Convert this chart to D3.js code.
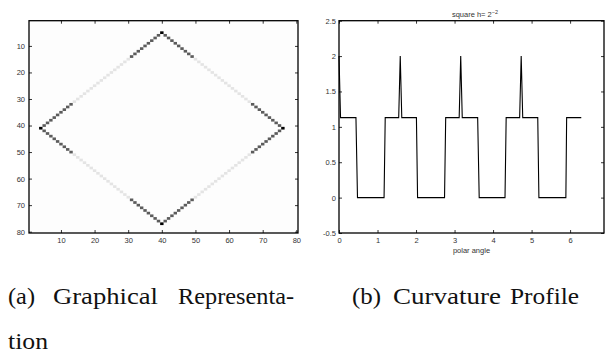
<!DOCTYPE html>
<html>
<head>
<meta charset="utf-8">
<script src="https://cdn.jsdelivr.net/npm/d3@7.9.0/dist/d3.min.js"></script>
<style>
  body { margin: 0; background: #fff; }
  svg { display: block; }
  .tick text { font-family: "Liberation Sans", Arial, sans-serif; font-size: 7.5px; fill: #333; }
  .tick line { stroke: #000; stroke-width: 0.8; }
  .caption { font-family: "Liberation Serif", "DejaVu Serif", serif; font-size: 24px; fill: #111; }
</style>
</head>
<body>
<svg id="fig" width="605" height="360"></svg>
<script>
// ---- left panel: 80x80 image with the diamond outline ----
const imgTicks = [10, 20, 30, 40, 50, 60, 70, 80];
// diamond corners [col, row], going round; corners are black
const corners = [[4, 41], [40, 5], [76, 41], [40, 77]];
// grey level of the 35 pixels between one corner and the next (1 = light, 2 = dark)
const edgeLevels = [
  [2,2,2,2,2,2,2,2,2, 1,1,1,1,1,1,1,1,1,1,1,1,1,1,1,1,1, 2,2,2,2,2,2,2,2,2],
  [2,2,2,2,2,2,2,2,2, 1,1,1,1,1,1,1,1,1,1,1,1,1,1,1,1,1, 2,2,2,2,2,2,2,2,2],
  [2,2,2,2,2,2,2,2,2, 1,1,1,1,1,1,1,1,1,1,1,1,1,1,1,1,1, 2,2,2,2,2,2,2,2,2],
  [2,2,2,2,2,2,2,2,2, 1,1,1,1,1,1,1,1,1,1,1,1,1,1,1,1,1, 2,2,2,2,2,2,2,2,2]
];
const levelColors = ['#ffffff', '#e4e4e4', '#5c5c5c', '#000000'];

// ---- right panel: curvature against polar angle ----
const angle = [0, 0.04, 0.44, 0.48, 1.17, 1.2, 1.55, 1.59, 1.63, 2.01, 2.04, 2.74, 2.77,
  3.12, 3.16, 3.2, 3.6, 3.64, 4.31, 4.34, 4.69, 4.73, 4.77, 5.16, 5.19, 5.89, 5.91, 6.29];
const curvature = [2, 1.13, 1.13, 0, 0, 1.13, 1.13, 2, 1.13, 1.13, 0, 0, 1.13,
  1.13, 2, 1.13, 1.13, 0, 0, 1.13, 1.13, 2, 1.13, 1.13, 0, 0, 1.13, 1.13];
const angleTicks = [0, 1, 2, 3, 4, 5, 6];
const curvTicks = [-0.5, 0, 0.5, 1, 1.5, 2, 2.5];
const curvTickLabels = ['-0.5', '0', '0.5', '1', '1.5', '2', '2.5'];

const svg = d3.select('#fig');

function frame(g, x, y) {
  const [x0, x1] = x.range();
  const [y1, y0] = y.range();
  g.append('rect')
    .attr('x', x0).attr('y', y0)
    .attr('width', x1 - x0).attr('height', y1 - y0)
    .attr('fill', 'none').attr('stroke', '#000').attr('stroke-width', 1.3);
}

function axes(g, x, y, xTicks, yTicks, yFormat, yPad) {
  const [x0, x1] = x.range();
  const [y1, y0] = y.range();
  g.append('g').attr('transform', `translate(0,${y1})`)
    .call(d3.axisBottom(x).tickValues(xTicks).tickSizeInner(-3).tickSizeOuter(0)
      .tickPadding(4.5).tickFormat(d3.format('d')))
    .call((a) => a.select('.domain').remove());
  g.append('g').attr('transform', `translate(0,${y0})`)
    .call(d3.axisTop(x).tickValues(xTicks).tickSizeInner(-3).tickSizeOuter(0).tickFormat(''))
    .call((a) => a.select('.domain').remove());
  g.append('g').attr('transform', `translate(${x0},0)`)
    .call(d3.axisLeft(y).tickValues(yTicks).tickSizeInner(-3).tickSizeOuter(0)
      .tickPadding(yPad).tickFormat(yFormat))
    .call((a) => a.select('.domain').remove());
  g.append('g').attr('transform', `translate(${x1},0)`)
    .call(d3.axisRight(y).tickValues(yTicks).tickSizeInner(-3).tickSizeOuter(0).tickFormat(''))
    .call((a) => a.select('.domain').remove());
}

// left panel
const left = svg.append('g');
const xImg = d3.scaleLinear().domain([0.5, 80.5]).range([29, 298]);
const yImg = d3.scaleLinear().domain([80.5, 0.5]).range([233, 20.7]);

const cells = [];
corners.forEach((c, i) => {
  const next = corners[(i + 1) % corners.length];
  const dc = Math.sign(next[0] - c[0]);
  const dr = Math.sign(next[1] - c[1]);
  cells.push({ col: c[0], row: c[1], level: 3 });
  edgeLevels[i].forEach((lv, k) => {
    cells.push({ col: c[0] + dc * (k + 1), row: c[1] + dr * (k + 1), level: lv });
  });
});

left.append('rect')
  .attr('x', xImg(0.5)).attr('y', yImg(0.5))
  .attr('width', xImg(80.5) - xImg(0.5)).attr('height', yImg(80.5) - yImg(0.5))
  .attr('fill', '#fdfdfd');

const cw = xImg(1) - xImg(0);
const ch = yImg(1) - yImg(0);
left.append('g').selectAll('rect')
  .data(cells)
  .join('rect')
  .attr('x', (d) => xImg(d.col - 0.5))
  .attr('y', (d) => yImg(d.row - 0.5))
  .attr('width', cw + 0.05)
  .attr('height', ch + 0.05)
  .attr('fill', (d) => levelColors[d.level]);

axes(left, xImg, yImg, imgTicks, imgTicks, d3.format('d'), 4);
frame(left, xImg, yImg);

// right panel
const right = svg.append('g');
const xAng = d3.scaleLinear().domain([0, 6.88]).range([339, 604]);
const yCurv = d3.scaleLinear().domain([-0.5, 2.5]).range([233, 20.7]);

const line = d3.line()
  .x((i) => xAng(angle[i]))
  .y((i) => yCurv(curvature[i]));

right.append('path')
  .attr('d', line(d3.range(angle.length)))
  .attr('fill', 'none')
  .attr('stroke', '#000')
  .attr('stroke-width', 1.1)
  .attr('stroke-linejoin', 'miter');

axes(right, xAng, yCurv, angleTicks, curvTicks, (d, i) => curvTickLabels[i], 3);
frame(right, xAng, yCurv);

const title = right.append('text')
  .attr('x', 475).attr('y', 17)
  .attr('text-anchor', 'middle')
  .attr('font-family', '"Liberation Sans", Arial, sans-serif')
  .attr('font-size', 7.5).attr('fill', '#333');
title.append('tspan').text('square h= 2');
title.append('tspan').attr('dy', -3).attr('font-size', 5.5).text('\u22122');

right.append('text')
  .attr('x', (xAng.range()[0] + xAng.range()[1]) / 2).attr('y', 253)
  .attr('text-anchor', 'middle')
  .attr('font-family', '"Liberation Sans", Arial, sans-serif')
  .attr('font-size', 7.5).attr('fill', '#333')
  .text('polar angle');

// captions
const captions = [
  { text: '(a)', x: 8, y: 304, w: 27 },
  { text: 'Graphical', x: 53, y: 304, w: 105 },
  { text: 'Representa-', x: 178, y: 304, w: 116 },
  { text: 'tion', x: 8, y: 349, w: 40 },
  { text: '(b)', x: 352, y: 304, w: 29 },
  { text: 'Curvature', x: 393, y: 304, w: 108 },
  { text: 'Profile', x: 510, y: 304, w: 69 }
];
svg.append('g').selectAll('text')
  .data(captions)
  .join('text')
  .attr('class', 'caption')
  .attr('x', (d) => d.x)
  .attr('y', (d) => d.y)
  .attr('textLength', (d) => d.w)
  .attr('lengthAdjust', 'spacingAndGlyphs')
  .text((d) => d.text);
</script>
</body>
</html>
